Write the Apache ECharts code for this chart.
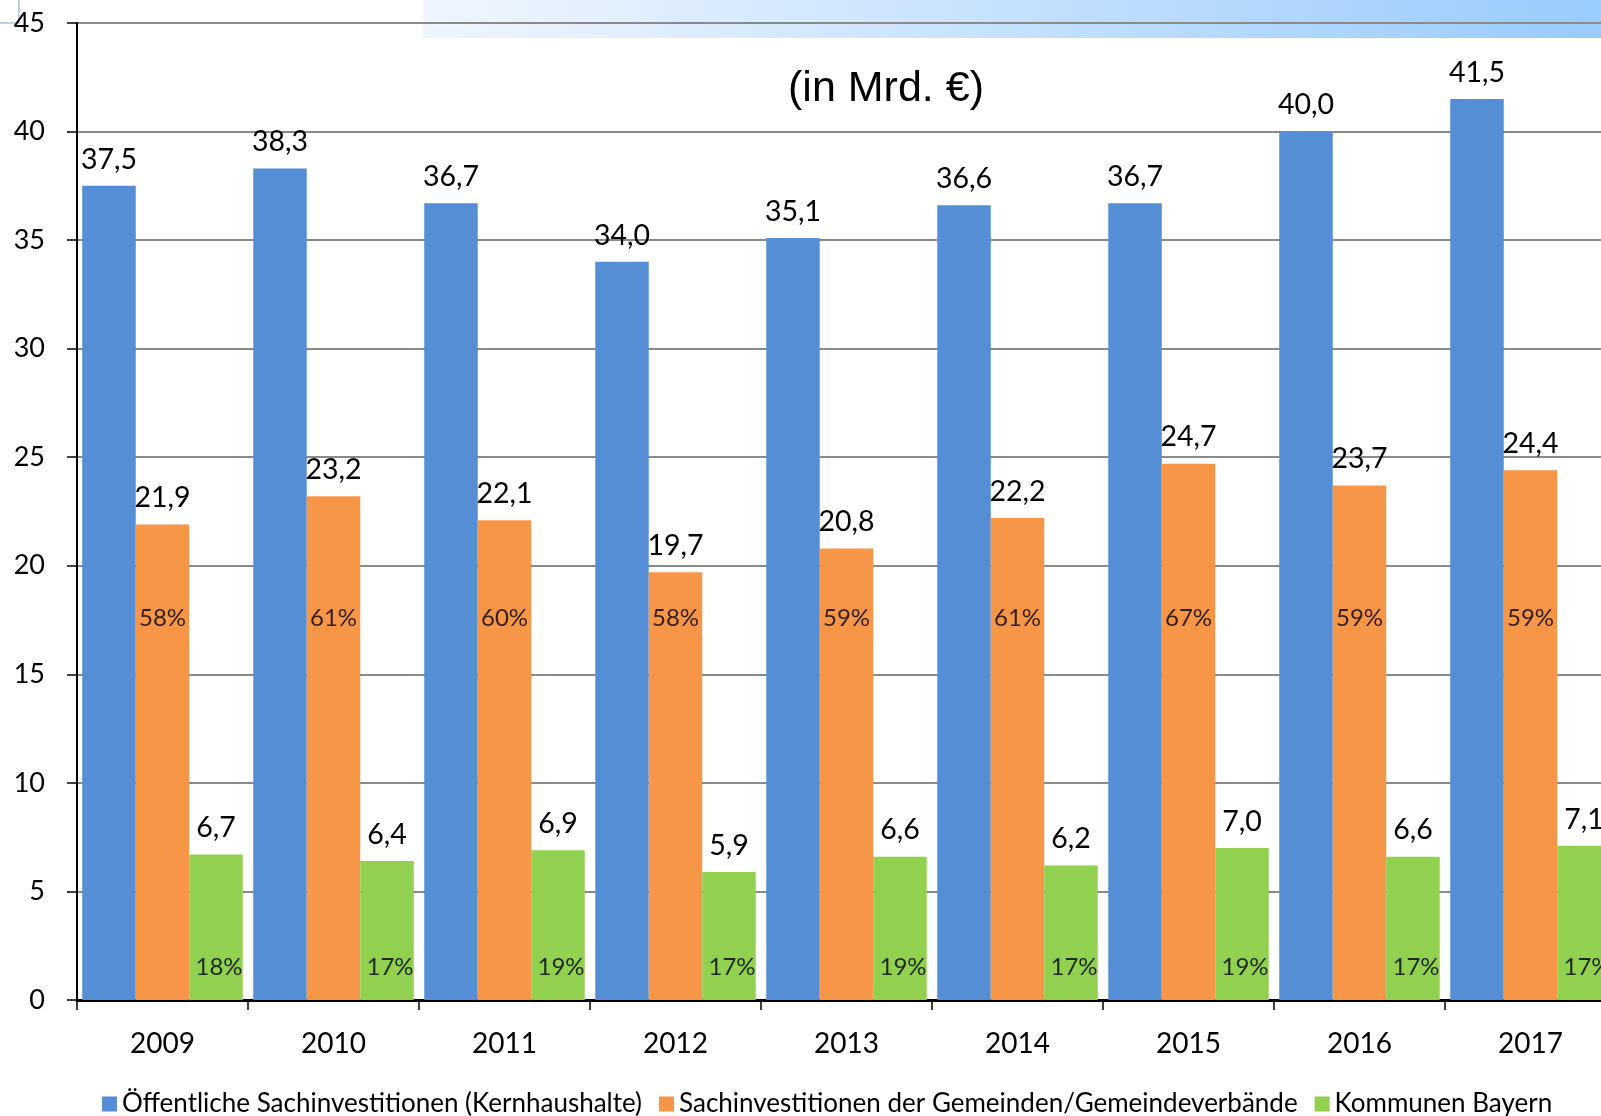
<!DOCTYPE html>
<html>
<head>
<meta charset="utf-8">
<script src="https://cdn.jsdelivr.net/npm/echarts@6/dist/echarts.min.js"></script>
<style>
  html, body { margin: 0; padding: 0; background: #fff; }
  #chart-box { width: 1601px; height: 1116px; }
</style>
</head>
<body>
<div id="chart-box"></div>
<script>
// Jahre
const years = ['2009', '2010', '2011', '2012', '2013', '2014', '2015', '2016', '2017'];
// Werte in Mrd. €
const oeffentlich = [37.5, 38.3, 36.7, 34.0, 35.1, 36.6, 36.7, 40.0, 41.5];
const gemeinden = [21.9, 23.2, 22.1, 19.7, 20.8, 22.2, 24.7, 23.7, 24.4];
const bayern = [6.7, 6.4, 6.9, 5.9, 6.6, 6.2, 7.0, 6.6, 7.1];
// Anteile in %
const gemeindenPct = [58, 61, 60, 58, 59, 61, 67, 59, 59];
const bayernPct = [18, 17, 19, 17, 19, 17, 19, 17, 17];

const seriesNames = [
  'Öffentliche Sachinvestitionen (Kernhaushalte)',
  'Sachinvestitionen der Gemeinden/Gemeindeverbände',
  'Kommunen Bayern'
];

const font = 'Lato, "Noto Sans", sans-serif';
const barW = 53.5;
const fmt = p => p.value.toFixed(1).replace('.', ',');

const valueLabel = {
  show: true,
  position: 'top',
  distance: 12,
  formatter: fmt,
  color: '#000',
  fontSize: 28.5,
  fontFamily: font
};

const chartObj = echarts.init(document.getElementById('chart-box'));
const option = {
  animation: false,
  // letzte Kategorie ragt über den rechten Rand hinaus
  grid: { left: 77, width: 1539, top: 23, bottom: 116, containLabel: false, outerBoundsMode: 'none' },
  graphic: {
    elements: [
      {
        type: 'rect',
        z: -1,
        shape: { x: 423, y: 0, width: 1178, height: 38 },
        style: {
          fill: new echarts.graphic.LinearGradient(0, 0, 1, 0, [
            { offset: 0, color: '#F0F6FE' },
            { offset: 1, color: '#99CBFC' }
          ])
        }
      },
      {
        type: 'rect',
        z: -1,
        shape: { x: -2, y: -2, width: 21, height: 25 },
        style: { fill: 'none', stroke: '#A9C4DD', lineWidth: 1.5 }
      },
      {
        type: 'text',
        x: 886,
        y: 89,
        style: {
          text: '(in Mrd. €)',
          align: 'center',
          verticalAlign: 'middle',
          fill: '#000',
          font: '43px "Liberation Sans", Arial, sans-serif'
        }
      }
    ]
  },
  legend: {
    data: seriesNames,
    left: 97,
    top: 1086,
    icon: 'rect',
    itemWidth: 15,
    itemHeight: 15,
    itemGap: 17,
    textStyle: { color: '#000', fontSize: 26, fontFamily: font }
  },
  xAxis: {
    type: 'category',
    data: years,
    boundaryGap: true,
    axisLine: { lineStyle: { color: '#000', width: 3 } },
    axisTick: { show: true, length: 10, alignWithLabel: false, lineStyle: { color: '#000', width: 1.5 } },
    axisLabel: { color: '#000', fontSize: 28, fontFamily: font, margin: 30 },
    splitLine: { show: false }
  },
  yAxis: {
    type: 'value',
    min: 0,
    max: 45,
    interval: 5,
    axisLine: { show: true, lineStyle: { color: '#000', width: 2 } },
    axisTick: { show: true, length: 10, lineStyle: { color: '#000', width: 1.5 } },
    axisLabel: { color: '#000', fontSize: 27, fontFamily: font, margin: 32 },
    splitLine: { lineStyle: { color: '#8A8A8A', width: 2 } }
  },
  series: [
    {
      name: seriesNames[0],
      type: 'bar',
      barWidth: barW,
      barGap: '0%',
      itemStyle: { color: '#558ED5' },
      label: valueLabel,
      data: oeffentlich
    },
    {
      name: seriesNames[1],
      type: 'bar',
      barWidth: barW,
      barGap: '0%',
      itemStyle: { color: '#F79646' },
      label: valueLabel,
      data: gemeinden
    },
    {
      name: seriesNames[2],
      type: 'bar',
      barWidth: barW,
      barGap: '0%',
      itemStyle: { color: '#92D050' },
      label: valueLabel,
      data: bayern
    },
    {
      name: 'pctGemeinden',
      type: 'scatter',
      symbolSize: 0,
      silent: true,
      z: 5,
      label: {
        show: true,
        position: 'inside',
        formatter: p => gemeindenPct[p.dataIndex] + '%',
        color: '#000',
        fontSize: 24,
        fontFamily: font
      },
      data: years.map((y, i) => [i, 17.6])
    },
    {
      name: 'pctBayern',
      type: 'scatter',
      symbolSize: 0,
      silent: true,
      z: 5,
      label: {
        show: true,
        position: 'inside',
        offset: [barW + 3, 0],
        formatter: p => bayernPct[p.dataIndex] + '%',
        color: '#000',
        fontSize: 24,
        fontFamily: font
      },
      data: years.map((y, i) => [i, 1.5])
    }
  ]
};
chartObj.setOption(option);
</script>
</body>
</html>
